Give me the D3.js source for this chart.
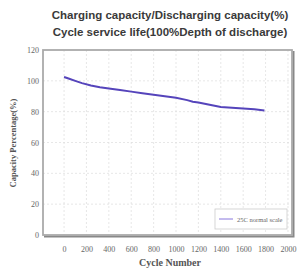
<!DOCTYPE html>
<html>
<head>
<meta charset="utf-8">
<script src="https://cdn.jsdelivr.net/npm/d3@7"></script>
<style>
  body { margin: 0; background: #fff; }
  svg { display: block; }
</style>
</head>
<body>
<div id="chart"></div>
<script>
// 数据
const cycles = [0, 40, 100, 160, 240, 320, 400, 500, 600, 700, 800, 900, 1000, 1100, 1150, 1200, 1300, 1400, 1500, 1600, 1700, 1790];
const capacity = [102.5, 101.5, 100, 98.5, 97, 95.8, 95, 94, 93, 92, 91, 90, 89, 87.5, 86.5, 86, 84.5, 83, 82.5, 82, 81.5, 80.8];
const xTicks = [0, 200, 400, 600, 800, 1000, 1200, 1400, 1600, 1800, 2000];
const yTicks = [0, 20, 40, 60, 80, 100, 120];
const titles = ["Charging capacity/Discharging capacity(%)", "Cycle service life(100%Depth of discharge)"];
const seriesName = "25C normal scale";

const W = 302, H = 271;
const X1 = 43, X2 = 292, Y1 = 50, Y2 = 235;
const LINE = "#5544bb";

const svg = d3.select("#chart").append("svg").attr("width", W).attr("height", H);

const x = d3.scaleLinear().domain([-188, 2036]).range([X1, X2]);
const y = d3.scaleLinear().domain([0, 120]).range([Y2, Y1]);

// 标题
svg.selectAll("text.title")
    .data(titles)
    .enter()
    .append("text")
    .attr("class", "title")
    .attr("x", 170)
    .attr("y", (d, i) => 19 + i * 17)
    .attr("text-anchor", "middle")
    .style("font-family", "Liberation Sans, Arial, sans-serif")
    .style("font-weight", "bold")
    .style("font-size", "11.5px")
    .attr("fill", "#3a3a3a")
    .text(d => d);

// 网格
const grid = svg.append("g");
grid.selectAll("line.vx")
    .data(xTicks)
    .enter()
    .append("line")
    .attr("x1", d => x(d)).attr("x2", d => x(d))
    .attr("y1", Y1).attr("y2", Y2)
    .attr("stroke", "#ddd").attr("stroke-width", 0.7)
    .attr("stroke-dasharray", "2,2");
grid.selectAll("line.hy")
    .data(yTicks.slice(1, -1))
    .enter()
    .append("line")
    .attr("x1", X1).attr("x2", X2)
    .attr("y1", d => y(d)).attr("y2", d => y(d))
    .attr("stroke", "#ddd").attr("stroke-width", 0.7)
    .attr("stroke-dasharray", "2,2");

// 边框 (带阴影)
svg.append("path")
    .attr("d", `M${X2 + 1.5},${Y1 + 1}V${Y2 + 1.5}H${X1 + 1}`)
    .attr("fill", "none")
    .attr("stroke", "#888")
    .attr("stroke-width", 2);
svg.append("rect")
    .attr("x", X1).attr("y", Y1)
    .attr("width", X2 - X1).attr("height", Y2 - Y1)
    .attr("fill", "none")
    .attr("stroke", "#aaa")
    .attr("stroke-width", 1.8);

// 坐标轴
const tickFont = "Liberation Serif, Times New Roman, serif";
const xAxis = svg.append("g")
    .attr("transform", `translate(0,${Y2 + 14})`)
    .call(d3.axisBottom(x).tickValues(xTicks).tickFormat(d3.format("d")).tickSize(0));
xAxis.select(".domain").remove();
xAxis.selectAll("text")
    .attr("dy", 0)
    .style("font-family", tickFont)
    .style("font-size", "8px")
    .attr("fill", "#666");

const yAxis = svg.append("g")
    .attr("transform", `translate(${X1 - 4},0)`)
    .call(d3.axisLeft(y).tickValues(yTicks).tickSize(0));
yAxis.select(".domain").remove();
yAxis.selectAll("text")
    .attr("dy", "0.32em")
    .attr("x", 0)
    .style("font-family", tickFont)
    .style("font-size", "8px")
    .attr("fill", "#666");

// 轴标签
svg.append("text")
    .attr("x", 170).attr("y", 266)
    .attr("text-anchor", "middle")
    .style("font-family", tickFont)
    .style("font-weight", "bold")
    .style("font-size", "10px")
    .attr("fill", "#555")
    .text("Cycle Number");
svg.append("text")
    .attr("transform", "translate(16,143) rotate(-90)")
    .attr("text-anchor", "middle")
    .style("font-family", tickFont)
    .style("font-weight", "bold")
    .style("font-size", "8.5px")
    .attr("fill", "#555")
    .text("Capacity Percentage(%)");

// 曲线
const data = cycles.map((c, i) => ({ c, v: capacity[i] }));
svg.append("path")
    .datum(data)
    .attr("fill", "none")
    .attr("stroke", LINE)
    .attr("stroke-width", 2)
    .attr("d", d3.line().x(d => x(d.c)).y(d => y(d.v)));

// 图例
const lg = svg.append("g").attr("transform", "translate(215,209)");
lg.append("rect")
    .attr("width", 72).attr("height", 20)
    .attr("fill", "#fff")
    .attr("stroke", "#ccc")
    .attr("stroke-width", 0.8);
lg.append("line")
    .attr("x1", 4).attr("x2", 18)
    .attr("y1", 10).attr("y2", 10)
    .attr("stroke", "#8877dd")
    .attr("stroke-width", 1);
lg.append("text")
    .attr("x", 22).attr("y", 12.5)
    .style("font-family", tickFont)
    .style("font-size", "6.5px")
    .attr("fill", "#666")
    .text(seriesName);
</script>
</body>
</html>
